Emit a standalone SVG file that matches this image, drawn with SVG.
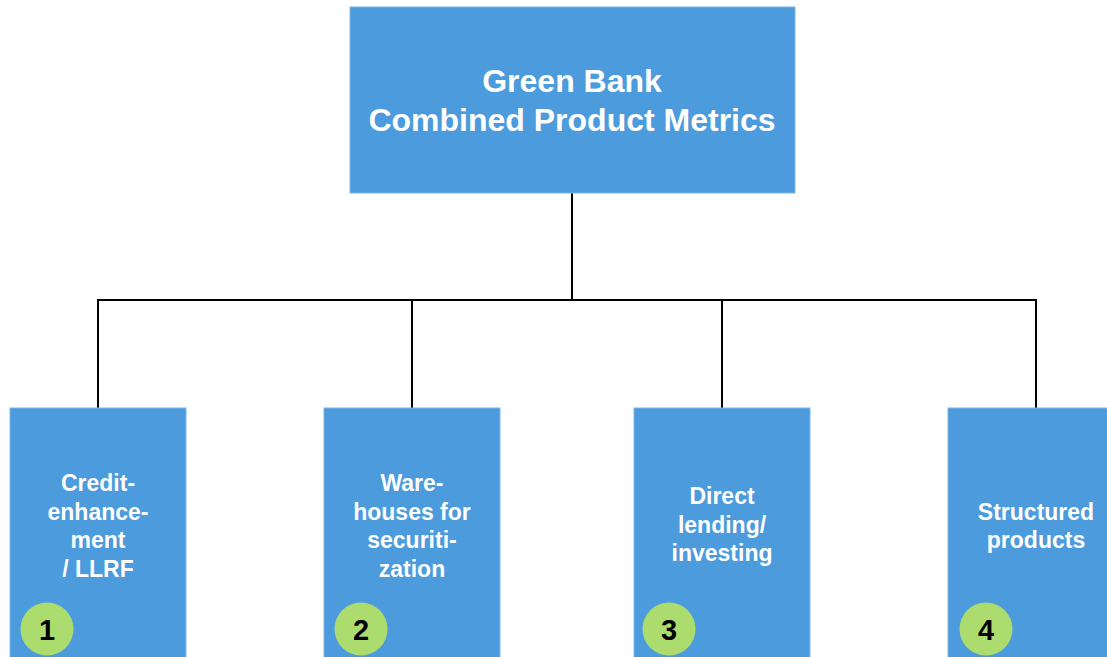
<svg xmlns="http://www.w3.org/2000/svg" width="1107" height="657" viewBox="0 0 1107 657">
<style>
.box{fill:#4C9BDC;stroke:#7FB6E6;stroke-width:1}
.t{font-family:"Liberation Sans",Arial,sans-serif;font-weight:bold;fill:#fff;text-anchor:middle}
.s{font-size:23px}
.badge{fill:#ADDC6E}
.n{font-family:"Liberation Sans",Arial,sans-serif;font-weight:bold;fill:#000;text-anchor:middle;font-size:29px}
.c{stroke:#000;stroke-width:2;fill:none}
</style>
<rect width="1107" height="657" fill="#fff"/>
<g id="connectors">
<path class="c" d="M572,193 V300 M97,300 H1037 M98,300 V408 M412,300 V408 M722,300 V408 M1036,300 V408"/>
</g>
<g id="root">
<rect class="box" x="350" y="7" width="445" height="186"/>
<text class="t" x="572" y="92" font-size="32">Green Bank</text>
<text class="t" x="572" y="131" font-size="32">Combined Product Metrics</text>
</g>
<g id="n1">
<rect class="box" x="10" y="408" width="176" height="260"/>
<text class="t s" x="98" y="491">Credit-</text>
<text class="t s" x="98" y="520">enhance-</text>
<text class="t s" x="98" y="548">ment</text>
<text class="t s" x="98" y="577">/ LLRF</text>
<circle class="badge" cx="47" cy="629" r="26.5"/>
<text class="n" x="47" y="640">1</text>
</g>
<g id="n2">
<rect class="box" x="324" y="408" width="176" height="260"/>
<text class="t s" x="412" y="491">Ware-</text>
<text class="t s" x="412" y="520">houses for</text>
<text class="t s" x="412" y="548">securiti-</text>
<text class="t s" x="412" y="577">zation</text>
<circle class="badge" cx="361" cy="629" r="26.5"/>
<text class="n" x="361" y="640">2</text>
</g>
<g id="n3">
<rect class="box" x="634" y="408" width="176" height="260"/>
<text class="t s" x="722" y="504">Direct</text>
<text class="t s" x="722" y="533">lending/</text>
<text class="t s" x="722" y="561">investing</text>
<circle class="badge" cx="669" cy="629" r="26.5"/>
<text class="n" x="669" y="640">3</text>
</g>
<g id="n4">
<rect class="box" x="948" y="408" width="176" height="260"/>
<text class="t s" x="1036" y="520">Structured</text>
<text class="t s" x="1036" y="548">products</text>
<circle class="badge" cx="986" cy="629" r="26.5"/>
<text class="n" x="986" y="640">4</text>
</g>
</svg>
